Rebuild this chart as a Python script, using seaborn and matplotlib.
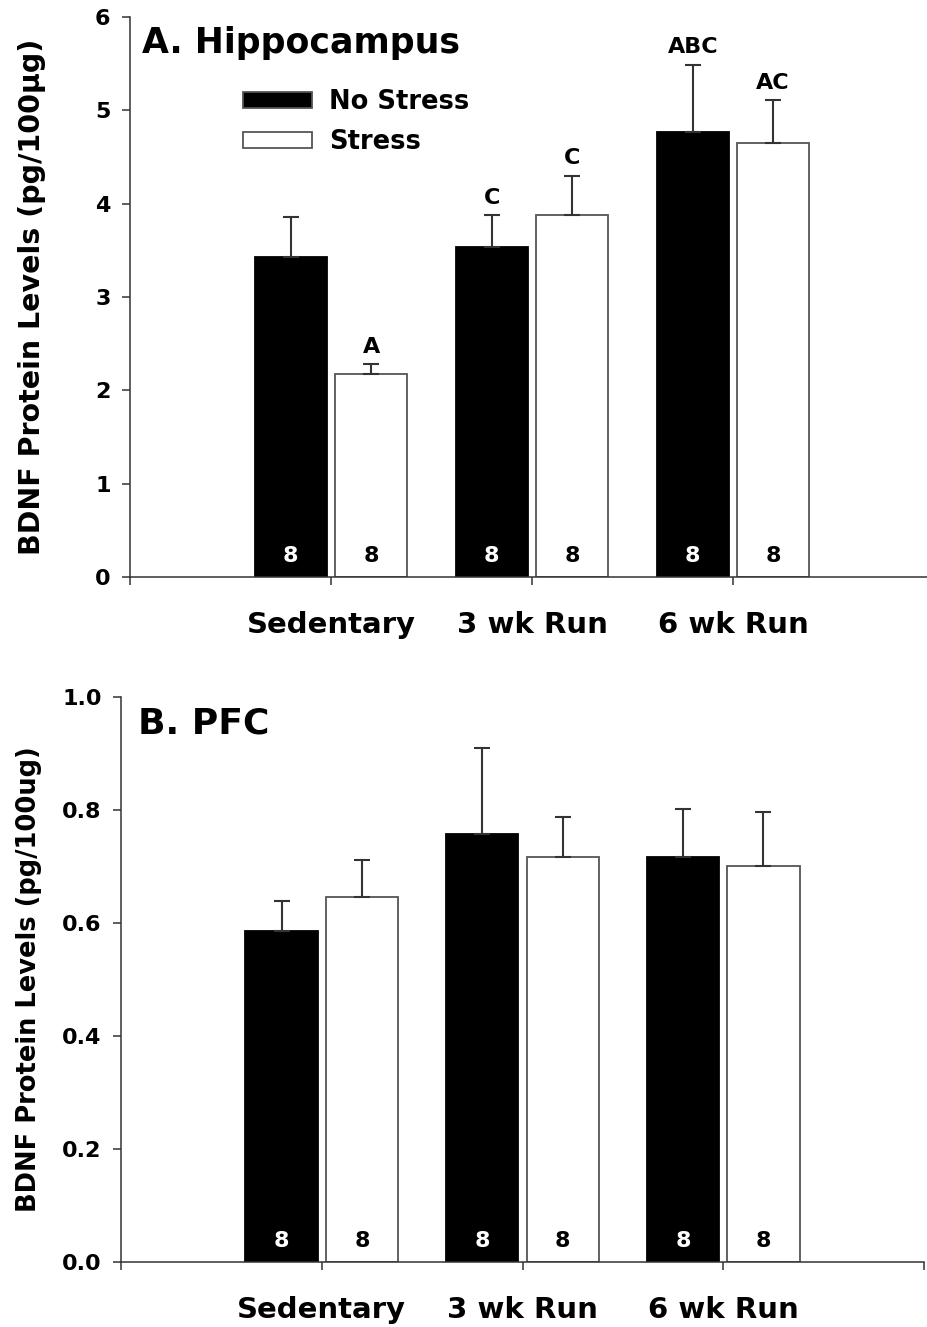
import matplotlib
matplotlib.use('Agg')
import matplotlib.pyplot as plt
from matplotlib.ticker import FormatStrFormatter
import seaborn as sns
import pandas as pd
import numpy as np

# ---------------- data ----------------
groups = ['Sedentary', '3 wk Run', '6 wk Run']
conditions = ['No Stress', 'Stress']

hip_no_stress = [3.43, 3.54, 4.77]
hip_no_stress_sem = [0.43, 0.34, 0.72]
hip_stress = [2.17, 3.88, 4.65]
hip_stress_sem = [0.11, 0.42, 0.46]
hip_letters_no_stress = ['', 'C', 'ABC']
hip_letters_stress = ['A', 'C', 'AC']

pfc_no_stress = [0.586, 0.758, 0.717]
pfc_no_stress_sem = [0.053, 0.152, 0.085]
pfc_stress = [0.646, 0.717, 0.701]
pfc_stress_sem = [0.066, 0.071, 0.095]
pfc_letters_no_stress = ['', '', '']
pfc_letters_stress = ['', '', '']

n_no_stress = [8, 8, 8]
n_stress = [8, 8, 8]

hip_yticks = [0, 1, 2, 3, 4, 5, 6]
pfc_yticks = [0.0, 0.2, 0.4, 0.6, 0.8, 1.0]

# ---------------- style ----------------
sns.set_theme(style='ticks')
plt.rcParams['font.family'] = ['DejaVu Sans']
plt.rcParams['font.weight'] = 'bold'
plt.rcParams['axes.labelweight'] = 'bold'
plt.rcParams['text.color'] = 'black'
plt.rcParams['axes.labelcolor'] = 'black'
plt.rcParams['xtick.color'] = 'black'
plt.rcParams['ytick.color'] = 'black'
plt.rcParams['xtick.labelcolor'] = 'black'
plt.rcParams['ytick.labelcolor'] = 'black'

W, H = 927, 1327
fig = plt.figure(figsize=(W / 100, H / 100), dpi=100)

AX_COLOR = '#333333'


def make_df(ns, ns_sem, s, s_sem, l_ns, l_s):
    return pd.DataFrame({
        'group': groups * 2,
        'condition': [conditions[0]] * len(groups) + [conditions[1]] * len(groups),
        'value': ns + s,
        'sem': ns_sem + s_sem,
        'letter': l_ns + l_s,
        'n': n_no_stress + n_stress,
    })


def draw_panel(rect_px, df, ylim, yticks, fmt, ylabel, ylabel_size, ylabel_x, legend):
    left, top, right, bottom = rect_px
    ax = fig.add_axes([left / W, 1 - bottom / H, (right - left) / W, (bottom - top) / H])
    sns.barplot(data=df, x='group', y='value', hue='condition', order=groups,
                hue_order=conditions,
                palette={'No Stress': 'black', 'Stress': 'white'}, saturation=1,
                width=0.8, gap=0.1, errorbar=None, edgecolor='#555555',
                linewidth=1.3, legend=legend, ax=ax)
    bar_containers = list(ax.containers)
    for cont, level in zip(bar_containers, conditions):
        sub = df[df['condition'] == level].set_index('group').loc[groups]
        xs = [b.get_x() + b.get_width() / 2 for b in cont]
        for b in cont:
            if level == 'No Stress':
                b.set_edgecolor('black')
            else:
                b.set_edgecolor('#555555')
        ax.errorbar(xs, sub['value'], yerr=[np.zeros(len(xs)), sub['sem']],
                    fmt='none', ecolor=AX_COLOR, elinewidth=1.5, capsize=6,
                    capthick=1.5, zorder=1)
        for x, v, e, let, n in zip(xs, sub['value'], sub['sem'], sub['letter'], sub['n']):
            if let:
                ax.annotate(let, xy=(x, v + e), xytext=(0, 12.5),
                            textcoords='offset points', ha='center', va='center',
                            fontsize=16, fontweight='bold', color='black')
            ax.annotate(str(n), xy=(x, 0), xytext=(0, 15),
                        textcoords='offset points', ha='center', va='center',
                        fontsize=16, fontweight='bold',
                        color='white' if level == 'No Stress' else 'black')
    ax.set_xlim(-1, 3)
    ax.set_ylim(*ylim)
    ax.set_xticks([-1, 0, 1, 2, 3])
    ax.set_xticklabels([''] + groups + [''], fontsize=21, fontweight='bold')
    ax.set_yticks(yticks)
    ax.yaxis.set_major_formatter(FormatStrFormatter(fmt))
    ax.tick_params(axis='y', direction='out', length=6, width=1.1, color=AX_COLOR,
                   labelsize=16, pad=8)
    ax.tick_params(axis='x', direction='out', length=6, width=1.1, color=AX_COLOR,
                   pad=18.5)
    for lab in ax.get_yticklabels():
        lab.set_fontweight('bold')
    sns.despine(ax=ax)
    for sp in ['left', 'bottom']:
        ax.spines[sp].set_linewidth(1.1)
        ax.spines[sp].set_color(AX_COLOR)
    ax.set_xlabel('')
    ax.set_ylabel(ylabel, fontsize=ylabel_size, fontweight='bold', color='black')
    ax.yaxis.set_label_coords((ylabel_x - left) / (right - left), 0.5)
    ax.set_facecolor('white')
    return ax


df_hip = make_df(hip_no_stress, hip_no_stress_sem, hip_stress, hip_stress_sem,
                 hip_letters_no_stress, hip_letters_stress)
df_pfc = make_df(pfc_no_stress, pfc_no_stress_sem, pfc_stress, pfc_stress_sem,
                 pfc_letters_no_stress, pfc_letters_stress)

axA = draw_panel((130, 17, 934, 577), df_hip, (0, 6), hip_yticks, '%d',
                 'BDNF Protein Levels (pg/100\u03bcg)', 20.5, 46, True)
sns.move_legend(axA, 'upper left', bbox_to_anchor=(243 / W, 1 - 89 / H),
                bbox_transform=fig.transFigure, frameon=False, title=None,
                fontsize=18.5, handlelength=2.7, handleheight=0.6,
                labelspacing=0.54, handletextpad=0.65, borderpad=0,
                borderaxespad=0)
for t in axA.get_legend().get_texts():
    t.set_fontweight('bold')
    t.set_color('black')

axB = draw_panel((121, 697, 924, 1262), df_pfc, (0, 1.0), pfc_yticks, '%.1f',
                 'BDNF Protein Levels (pg/100ug)', 18.5, 42, False)

fig.text(142 / W, 1 - 53 / H, 'A. Hippocampus', fontsize=25, fontweight='bold',
         ha='left', va='baseline', color='black')
fig.text(138 / W, 1 - 733 / H, 'B. PFC', fontsize=26, fontweight='bold',
         ha='left', va='baseline', color='black')

fig.savefig('out.png', dpi=100, facecolor='white')
